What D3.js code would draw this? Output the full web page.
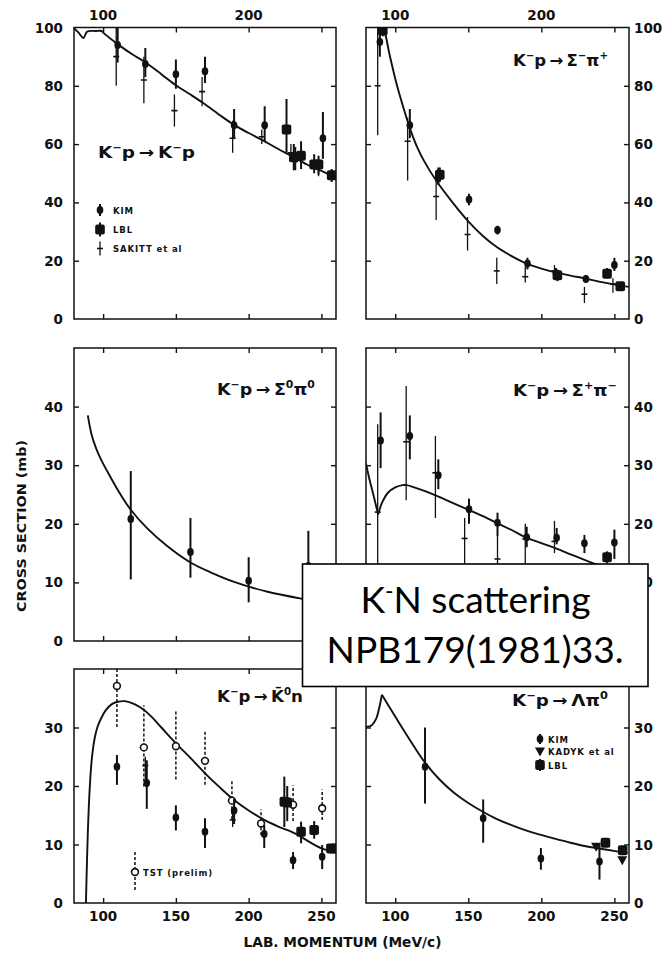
<!DOCTYPE html>
<html><head><meta charset="utf-8">
<script src="https://cdn.jsdelivr.net/npm/d3@7"></script>
<style>
html,body{margin:0;padding:0;background:#fff;}
svg{display:block;}
</style></head>
<body>
<svg id="c" width="664" height="954"></svg>
<script>
// ---------------- DATA ----------------
const xDomain = [80, 260];
const xTicks = [100, 150, 200, 250];
const xTopLabels = [100, 200];
const xBottomLabels = [100, 150, 200, 250];

const yDomainTop = [0, 100], yTicksTop = [0, 20, 40, 60, 80, 100];
const yDomainMid = [0, 50],  yTicksMid = [0, 10, 20, 30, 40];
const yDomainBot = [0, 40],  yTicksBot = [0, 10, 20, 30];

// K-p -> K-p   (points: [x, value, low, high])
const kpCurve = [[[80,99.8],[83,98.3],[86.5,96.4],[89,98.6],[95,98.8],[99,98.8],[101,97.8],[110,94.3],[120,90.8],[128,88.4],[140,84],[150,80.2],[160,77],[169,74],[180,70],[190,66.6],[200,63.8],[210,61.2],[220,58.4],[229,56],[240,53],[250,50.8],[260,48.6]]];
const kpKim = [[110,94,88,100],[129,87.5,83,93],[150,84,79,89],[170,85,81,90],[190,66.5,62,72],[211,66.5,61,73],[232,55,51,59],[251,62,55,71]];
const kpLbl = [[226,65,57,75.5],[231,55.5,51,60],[236,56,51.5,61],[245,53,50,56.5],[248,53,49.5,56],[257,49.3,47,51.5]];
const kpSakitt = [[109,90,80,100],[128,82,74,90],[149,71.5,66,77],[168,78,73,83],[189,62,57,68],[209,62.5,60,65],[229,57,54,60],[248,52.5,49,55]];

// K-p -> Sigma- pi+
const smCurve = [[[89,99.2],[91,100],[93,98],[96,91],[101,80.5],[105,73.5],[110,65.5],[115,59],[120,54],[128,47.5],[140,39.5],[150,33.5],[160,28.5],[170,24.5],[180,21.5],[190,19],[200,17.3],[210,16],[220,14.9],[230,13.9],[245,12.3],[260,11]]];
const smKim = [[89.5,95,90,100],[110,66.5,62,72],[129.5,48.5,46,52],[150.5,41,39,43],[170,30.5,29,32],[190.5,19,17,21],[210,15.5,14,17.5],[230.5,13.7,12.5,15],[250,18.5,16.5,21]];
const smLbl = [[91.5,99,97,100],[130.5,49.5,47,52],[211,15,13,17],[245,15.5,14,17.5],[254,11.2,10,12.5]];
const smSakitt = [[88,80,63,100],[108.5,61,47.5,69],[128,42,34,48],[149.5,29,23.5,35],[169.5,16.5,12,21],[189,14.5,12.5,18],[209,16.5,14,18.5],[229.5,8.5,5.5,11],[249,12,9,14]];

// K-p -> Sigma0 pi0
const szCurve = [[[89.5,38.5],[92,35.3],[95,33],[98.5,31],[105,28],[112,25],[119,22.4],[130,19.3],[144,16.2],[160,13.4],[175,11.6],[190,10.1],[213,8.4],[237,7.2],[260,6.3]]];
const szKim = [[119,20.8,10.5,29],[160,15.2,10.8,21],[200,10.3,6.6,14.3],[241,12.8,7,18.8]];

// K-p -> Sigma+ pi-
const spCurve = [[[80,30.3],[82,28],[85,25],[88.3,21.6]],[[88.3,21.6],[91,23.6],[95,25.3],[100,26.2],[105,26.6],[108,26.6],[112,26.3],[120,25.6],[128,24.8],[140,23.5],[150,22.4],[160,21.3],[170,20.1],[180,18.9],[190,17.6],[200,16.7],[210,15.8],[220,14.8],[230,13.8],[245,12.3],[260,10.8]]];
const spKim = [[90,34.2,29.5,39],[110,35,31,38.5],[129.5,28.3,25.9,31],[150.5,22.5,20,24.3],[170,20.2,17.9,21.9],[190,17.7,16,19.5],[210.5,17.6,16.5,19.3],[229.5,16.7,15,18.1],[250,16.8,14,19]];
const spLbl = [[245,14.3,13.3,15.3]];
const spSakitt = [[88,22,5,37],[107.5,34,24,43.5],[127.5,28.7,21,35],[147.5,17.5,8,21],[170,14,8,18],[189,17.4,13,20],[209,17,15,20.5]];

// K-p -> K0bar n
const knCurve = [[[88.2,0],[88.8,6],[89.5,12],[90.5,18.2],[92,24],[94,27.9],[96,30],[98.5,31.5],[102,33],[106,34],[110,34.4],[115,34.5],[121.5,34],[127,33.2],[133,31.9],[140,30],[150,27.3],[160,24.8],[169.5,22.3],[180,19.8],[190,17.6],[200,15.8],[210.7,14.2],[220,13.1],[231,12],[240,10.7],[249.6,9.4],[255,9],[260,8.8]]];
const knTst = [[109.5,37.1,30.1,40],[128,26.6,19.9,33.8],[150,26.8,21.1,33],[170,24.3,20.2,29.6],[188.5,17.5,14.3,20.8],[208.5,13.6,11.6,16],[230.5,16.8,14,20.1],[250.5,16.2,14.2,19.4]];
const knKim = [[109.5,23.3,20.2,25.3],[130,20.5,16.1,24.4],[150,14.6,12.4,16.7],[170,12.2,9.4,14.5],[190,15.8,13.5,17.8],[210.7,11.8,9.4,13.3],[230.5,7.3,5.8,8.7],[250.5,7.9,5.8,9.9]];
const knLbl = [[224.5,17.3,13,21.6],[226.5,17.2,14,20],[236,12.2,10.2,13.9],[245,12.5,11,14],[256.5,9.3,8.5,10],[259.5,9.3,8.5,10]];
const knSakitt = [[129,23.5,21,25],[189,14.2,13,15.5]];

// K-p -> Lambda pi0
const lpCurve = [[[80,30.1],[84,30.4],[87,31.5],[89,33.3],[90.9,35.6]],[[90.9,35.6],[98,32.7],[105.6,29.6],[113,26.7],[120.4,24],[130,21.2],[140,18.9],[150,17.1],[160,15.6],[170,14.3],[185,12.8],[196,11.9],[207.7,11.1],[220,10.3],[230.5,9.7],[245,9.1],[259,8.5]]];
const lpKim = [[120.4,23.3,17,30],[160.2,14.5,10.3,17.7],[199.7,7.6,5.7,9.4],[239.8,7.1,4,10]];
const lpKadyk = [[237.5,9.6,9.6,9.6],[255.4,7.3,7.3,7.3]];
const lpLbl = [[243.9,10.3,10.3,10.3],[255.7,9,9,9]];

// reaction labels: [text, kind]
const kpLabel = [["K",""],["\u2212","sup"],["p",""],["\u2009\u2192\u2009",""],["K",""],["\u2212","sup"],["p",""]];
const smLabel = [["K",""],["\u2212","sup"],["p",""],["\u2009\u2192\u2009",""],["\u03A3",""],["\u2212","sup"],["\u03C0",""],["+","sup"]];
const szLabel = [["K",""],["\u2212","sup"],["p",""],["\u2009\u2192\u2009",""],["\u03A3",""],["0","sup"],["\u03C0",""],["0","sup"]];
const spLabel = [["K",""],["\u2212","sup"],["p",""],["\u2009\u2192\u2009",""],["\u03A3",""],["+","sup"],["\u03C0",""],["\u2212","sup"]];
const knLabel = [["K",""],["\u2212","sup"],["p",""],["\u2009\u2192\u2009",""],["K\u0304",""],["0","sup"],["n",""]];
const lpLabel = [["K",""],["\u2212","sup"],["p",""],["\u2009\u2192\u2009",""],["\u039B",""],["\u03C0",""],["0","sup"]];

const legendTopLeft = ["KIM", "LBL", "SAKITT et al"];
const legendBottomRight = ["KIM", "KADYK et al", "LBL"];
const legendBottomLeft = ["TST (prelim)"];

const yTitle = "CROSS SECTION (mb)";
const xTitle = "LAB. MOMENTUM (MeV/c)";
const noteLines = ["K", "-", "N scattering", "NPB179(1981)33."];

// ---------------- LAYOUT ----------------
const FONT = "'DejaVu Sans', sans-serif";
const INK = "#111";
const colX = {L: [74, 336], R: [366, 629]};
const rowY = {top: [27.5, 319], mid: [348, 641], bot: [669, 903]};

const panels = [
  {col:"L", row:"top", yd:yDomainTop, yt:yTicksTop, curve:kpCurve, kim:kpKim, lbl:kpLbl, sak:kpSakitt, label:kpLabel, lp:[98,158,97]},
  {col:"R", row:"top", yd:yDomainTop, yt:yTicksTop, curve:smCurve, kim:smKim, lbl:smLbl, sak:smSakitt, label:smLabel, lp:[513,66,95]},
  {col:"L", row:"mid", yd:yDomainMid, yt:yTicksMid, curve:szCurve, kim:szKim, label:szLabel, lp:[217,395,98]},
  {col:"R", row:"mid", yd:yDomainMid, yt:yTicksMid, curve:spCurve, kim:spKim, lbl:spLbl, sak:spSakitt, label:spLabel, lp:[513,396,104]},
  {col:"L", row:"bot", yd:yDomainBot, yt:yTicksBot, curve:knCurve, kim:knKim, lbl:knLbl, sak:knSakitt, tst:knTst, label:knLabel, lp:[217,702,86]},
  {col:"R", row:"bot", yd:yDomainBot, yt:yTicksBot, curve:lpCurve, kim:lpKim, lbl:lpLbl, kad:lpKadyk, label:lpLabel, lp:[512,706,96]}
];

const svg = d3.select("#c");
svg.append("rect").attr("width",664).attr("height",954).attr("fill","#fff");

function richText(g, parts, size) {
  const t = g.append("text").attr("font-family", FONT).attr("font-weight","bold")
    .attr("font-size", size).attr("fill", INK);
  let up = false;
  parts.forEach(([s,k]) => {
    const ts = t.append("tspan").text(s);
    if (k === "sup") {
      ts.attr("font-size", size*0.62);
      if (!up) ts.attr("dy", -size*0.42);
      up = true;
    } else {
      if (up) ts.attr("dy", size*0.42);
      up = false;
    }
  });
  return t;
}
function fitWidth(t, target) {
  const w = t.node().getBBox().width;
  t.attr("transform", `scale(${target / w},1)`);
}

// markers
function drawKim(g, x, y, d) {
  g.append("line").attr("x1",x(d[0])).attr("x2",x(d[0])).attr("y1",y(d[2])).attr("y2",y(d[3]))
    .attr("stroke",INK).attr("stroke-width",2);
  g.append("ellipse").attr("cx",x(d[0])).attr("cy",y(d[1])).attr("rx",3.3).attr("ry",4).attr("fill",INK);
}
function drawLbl(g, x, y, d) {
  g.append("line").attr("x1",x(d[0])).attr("x2",x(d[0])).attr("y1",y(d[2])).attr("y2",y(d[3]))
    .attr("stroke",INK).attr("stroke-width",2);
  g.append("rect").attr("x",x(d[0])-4.8).attr("y",y(d[1])-5).attr("width",9.6).attr("height",10)
    .attr("rx",2).attr("fill",INK);
}
function drawSak(g, x, y, d) {
  g.append("line").attr("x1",x(d[0])).attr("x2",x(d[0])).attr("y1",y(d[2])).attr("y2",y(d[3]))
    .attr("stroke",INK).attr("stroke-width",1.3);
  g.append("line").attr("x1",x(d[0])-3).attr("x2",x(d[0])+3).attr("y1",y(d[1])).attr("y2",y(d[1]))
    .attr("stroke",INK).attr("stroke-width",1.6);
}
function drawTst(g, x, y, d) {
  g.append("line").attr("x1",x(d[0])).attr("x2",x(d[0])).attr("y1",y(d[2])).attr("y2",y(d[3]))
    .attr("stroke",INK).attr("stroke-width",1.5).attr("stroke-dasharray","3,2");
  g.append("circle").attr("cx",x(d[0])).attr("cy",y(d[1])).attr("r",3.4)
    .attr("fill","#fff").attr("stroke",INK).attr("stroke-width",1.6);
}
function drawKad(g, x, y, d) {
  const cx = x(d[0]), cy = y(d[1]);
  g.append("path").attr("d",`M${cx-5},${cy-4}L${cx+5},${cy-4}L${cx},${cy+5}Z`).attr("fill",INK);
}

panels.forEach((p, i) => {
  const [x0, x1] = colX[p.col], [yT, yB] = rowY[p.row];
  const x = d3.scaleLinear().domain(xDomain).range([x0, x1]);
  const y = d3.scaleLinear().domain(p.yd).range([yB, yT]);
  const g = svg.append("g");
  const cid = "clip" + i;
  svg.append("clipPath").attr("id", cid).append("rect")
    .attr("x", x0).attr("y", yT).attr("width", x1-x0).attr("height", yB-yT);

  // inward ticks on all sides via d3 axes
  const tl = 5;
  const yInner = p.yt.filter(v => v > p.yd[0] && v < p.yd[1]);
  g.append("g").attr("transform",`translate(${x0},0)`)
    .call(d3.axisRight(y).tickValues(yInner).tickSize(tl).tickFormat(""))
    .call(a => a.select(".domain").remove());
  g.append("g").attr("transform",`translate(${x1},0)`)
    .call(d3.axisLeft(y).tickValues(yInner).tickSize(tl).tickFormat(""))
    .call(a => a.select(".domain").remove());
  g.append("g").attr("transform",`translate(0,${yT})`)
    .call(d3.axisBottom(x).tickValues(xTicks).tickSize(tl).tickFormat(""))
    .call(a => a.select(".domain").remove());
  g.append("g").attr("transform",`translate(0,${yB})`)
    .call(d3.axisTop(x).tickValues(xTicks).tickSize(tl).tickFormat(""))
    .call(a => a.select(".domain").remove());
  g.selectAll(".tick line").attr("stroke", INK).attr("stroke-width", 1.4);

  // frame
  g.append("rect").attr("x",x0).attr("y",yT).attr("width",x1-x0).attr("height",yB-yT)
    .attr("fill","none").attr("stroke",INK).attr("stroke-width",1.5);

  // tick labels
  const lab = g.append("g").attr("font-family",FONT).attr("font-weight","bold")
    .attr("font-size",13.5).attr("fill",INK);
  p.yt.forEach(v => {
    if (p.col === "L") lab.append("text").attr("x",63).attr("y",y(v)+5).attr("text-anchor","end").text(v);
    else lab.append("text").attr("x",634).attr("y",y(v)+5).attr("text-anchor","start").text(v);
  });
  if (p.row === "top") xTopLabels.forEach(v =>
    lab.append("text").attr("x",x(v)).attr("y",20).attr("text-anchor","middle").text(v));
  if (p.row === "bot") xBottomLabels.forEach(v =>
    lab.append("text").attr("x",x(v)).attr("y",921).attr("text-anchor","middle").text(v));

  // curve + data
  const pg = g.append("g").attr("clip-path",`url(#${cid})`);
  const line = d3.line().x(d => x(d[0])).y(d => y(d[1])).curve(d3.curveCatmullRom.alpha(0.5));
  p.curve.forEach(seg => pg.append("path").attr("d", line(seg)).attr("fill","none")
    .attr("stroke",INK).attr("stroke-width",1.9).attr("stroke-linejoin","round"));
  (p.sak || []).forEach(d => drawSak(pg, x, y, d));
  (p.tst || []).forEach(d => drawTst(pg, x, y, d));
  (p.kim || []).forEach(d => drawKim(pg, x, y, d));
  (p.lbl || []).forEach(d => drawLbl(pg, x, y, d));
  (p.kad || []).forEach(d => drawKad(pg, x, y, d));

  // reaction label
  const lg = svg.append("g").attr("transform",`translate(${p.lp[0]},${p.lp[1]})`);
  const t = richText(lg, p.label, 16);
  fitWidth(t, p.lp[2]);
});

// legends
function legendText(g, x, y, s) {
  return g.append("text").attr("x",x).attr("y",y).attr("font-family",FONT).attr("font-weight","bold")
    .attr("font-size",8.5).attr("letter-spacing",0.9).attr("fill",INK).text(s);
}
const ident = v => v;
(function() {
  const g = svg.append("g");
  const ys = [210, 229.5, 248.5];
  drawKim(g, ident, ident, [100, ys[0], ys[0]-6, ys[0]+6]);
  drawLbl(g, ident, ident, [100, ys[1], ys[1]-7, ys[1]+7]);
  drawSak(g, ident, ident, [100, ys[2], ys[2]-7, ys[2]+7]);
  legendTopLeft.forEach((s, i) => legendText(g, 113, ys[i]+3.5, s));
})();
(function() {
  const g = svg.append("g");
  const ys = [739, 751.5, 765];
  drawKim(g, ident, ident, [540, ys[0], ys[0]-5, ys[0]+5]);
  drawKad(g, ident, ident, [540, ys[1]]);
  drawLbl(g, ident, ident, [540, ys[2], ys[2]-6, ys[2]+6]);
  legendBottomRight.forEach((s, i) => legendText(g, 548, ys[i]+3.5, s));
})();
(function() {
  const g = svg.append("g");
  drawTst(g, ident, ident, [135, 872, 852, 890]);
  legendText(g, 143, 875.5, legendBottomLeft[0]);
})();

// axis titles
(function() {
  const g = svg.append("g").attr("transform","translate(26,526)");
  g.append("text").attr("transform","rotate(-90)").attr("text-anchor","middle")
    .attr("font-family",FONT).attr("font-weight","bold").attr("font-size",13).attr("fill",INK)
    .attr("textLength",172).attr("lengthAdjust","spacingAndGlyphs").text(yTitle);
  svg.append("text").attr("x",342.5).attr("y",947).attr("text-anchor","middle")
    .attr("font-family",FONT).attr("font-weight","bold").attr("font-size",13.5).attr("fill",INK)
    .attr("textLength",198).attr("lengthAdjust","spacingAndGlyphs").text(xTitle);
})();

// overlay note box
(function() {
  const g = svg.append("g");
  g.append("rect").attr("x",302.5).attr("y",564).attr("width",345.5).attr("height",122.5)
    .attr("fill","#fff").attr("stroke","#000").attr("stroke-width",1.6);
  const nf = "Lato, 'Open Sans', sans-serif";
  const probe = g.append("text").attr("font-family",nf).attr("font-size",40).text(noteLines[3]);
  const fs = 40 * 297 / probe.node().getComputedTextLength();
  probe.remove();
  const t1 = g.append("text").attr("x",475.5).attr("y",613.3).attr("text-anchor","middle")
    .attr("font-family",nf).attr("font-size",fs).attr("fill","#000");
  t1.append("tspan").text(noteLines[0]);
  t1.append("tspan").attr("font-size",fs*0.62).attr("dy",-fs*0.38).text(noteLines[1]);
  t1.append("tspan").attr("dy",fs*0.38).text(noteLines[2]);
  g.append("text").attr("x",475).attr("y",663.3).attr("text-anchor","middle")
    .attr("font-family",nf).attr("font-size",fs).attr("fill","#000").text(noteLines[3]);
})();
</script>
</body></html>
